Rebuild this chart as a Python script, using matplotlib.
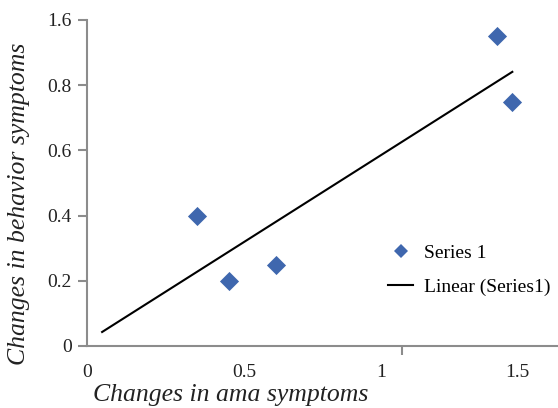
import numpy as np
import matplotlib
matplotlib.use("Agg")
import matplotlib.pyplot as plt
from matplotlib.lines import Line2D

# Data
x_vals = [0.35, 0.45, 0.60, 1.30, 1.35]
y_vals = [0.40, 0.20, 0.25, 0.95, 0.75]
trend_start = 0.048
y_tick_pos = [0, 0.2, 0.4, 0.6, 0.8, 1.0]
y_tick_labels = ["0", "0.2", "0.4", "0.6", "0.8", "1.6"]
x_tick_mark_pos = [0, 0.5, 1.0]
x_label_pos = [0, 0.5, 0.933, 1.365]
x_tick_labels = ["0", "0.5", "1", "1.5"]

plt.rcParams['font.family'] = ['Liberation Serif', 'DejaVu Serif']

fig = plt.figure(figsize=(5.58, 4.08), dpi=100)
ax = fig.add_axes([87/558, 1 - 346/408, 1 - 87/558, (346 - 20)/408])

blue = "#3f67ae"
gray = "#8c8c8c"

ax.scatter(x_vals, y_vals, marker="D", s=95, color=blue, zorder=3, linewidths=0)

coef = np.polyfit(x_vals, y_vals, 1)
tx = np.array([trend_start, max(x_vals)])
ax.plot(tx, np.polyval(coef, tx), color="black", lw=1.5, zorder=2)

ax.set_xlim(0, 1.495)
ax.set_ylim(0, 1.0)

for s in ["top", "right"]:
    ax.spines[s].set_visible(False)
for s in ["left", "bottom"]:
    ax.spines[s].set_color(gray)
    ax.spines[s].set_linewidth(1.5)

ax.set_yticks(y_tick_pos)
ax.set_yticklabels(y_tick_labels, fontsize=14, color="#222222")
ax.tick_params(axis="y", length=6.5, width=1.5, color=gray, pad=4.5)

ax.set_xticks(x_label_pos)
ax.set_xticklabels(x_tick_labels, fontsize=14, color="#222222")
ax.set_xticks(x_tick_mark_pos, minor=True)
ax.tick_params(axis="x", which="major", length=0, pad=13)
ax.tick_params(axis="x", which="minor", length=6.5, width=1.5, color=gray)

fig.text(231/558, 1 - 395/408, "Changes in ama symptoms", fontsize=18.5, style="italic",
         ha="center", va="center", color="#222222")
fig.text(19/558, 1 - 204/408, "Changes in behavior symptoms", fontsize=18.5, style="italic",
         ha="center", va="center", rotation=90, color="#222222")

handles = [
    Line2D([], [], marker="D", color=blue, linestyle="none", markersize=7, markeredgewidth=0),
    Line2D([], [], color="black", lw=1.5),
]
leg = ax.legend(handles, ["Series 1", "Linear (Series1)"], loc="upper left",
                frameon=False, fontsize=14, handlelength=1.3, handletextpad=0.57,
                labelspacing=0.86, borderpad=0, borderaxespad=0)
leg.set_bbox_to_anchor(((388 - 87)/471, (346 - 244)/326), transform=ax.transAxes)

fig.savefig("out.png", dpi=100)
